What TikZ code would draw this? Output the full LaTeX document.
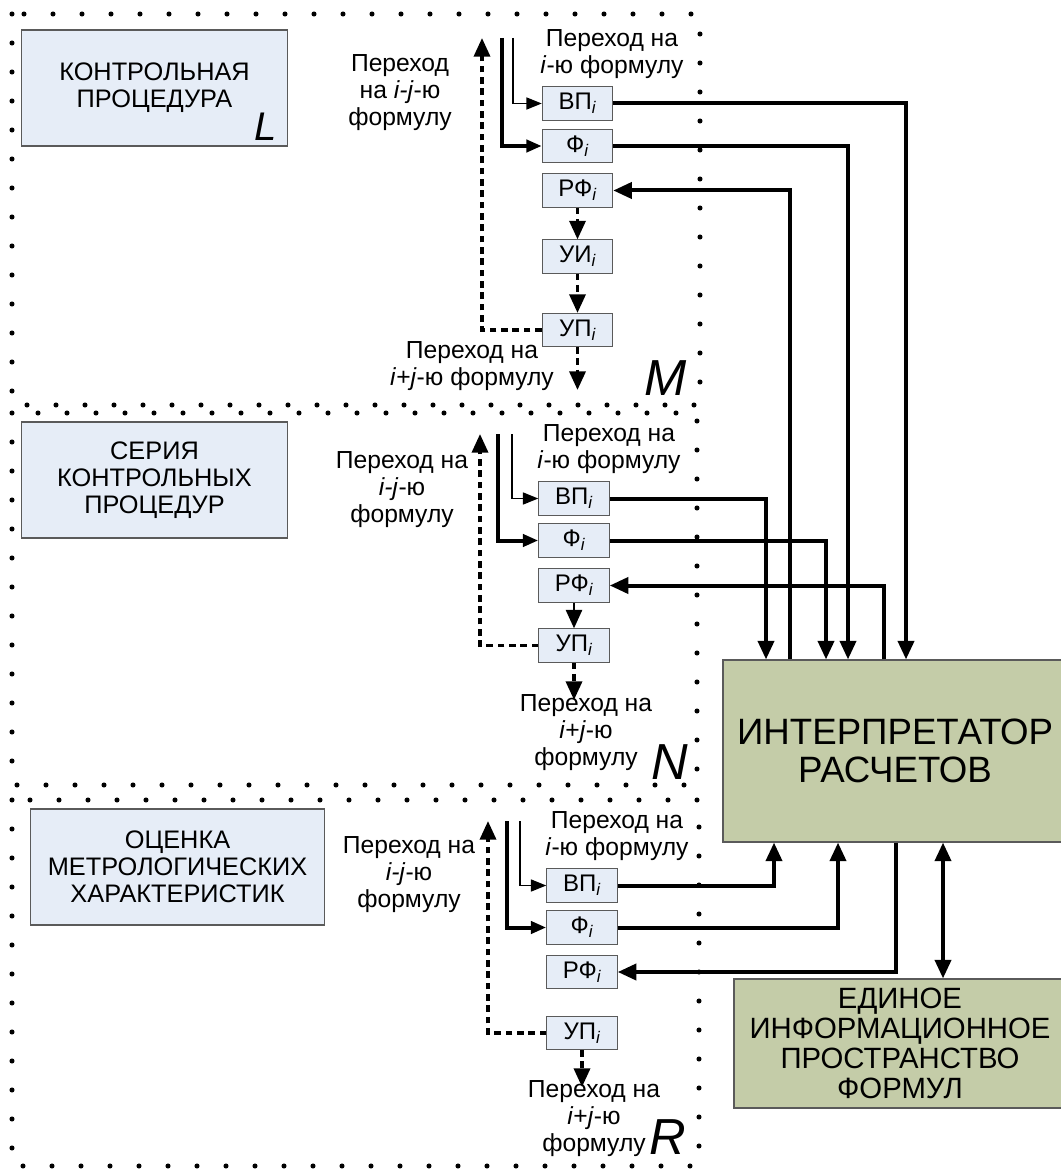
\documentclass[tikz,border=0pt]{standalone}
\usepackage{fontspec}
\setmainfont{Liberation Sans}
\usetikzlibrary{arrows.meta,calc}
\definecolor{boxblue}{RGB}{230,237,247}
\definecolor{interpfill}{RGB}{196,204,168}
\definecolor{boxline}{RGB}{90,90,90}
\tikzset{
  bigtip/.tip={Triangle[length=14pt,width=12pt]},
  smalltip/.tip={Triangle[length=11.5pt,width=9pt]},
  smallbox/.style={draw=boxline, line width=0.6pt, fill=boxblue, minimum width=53pt, minimum height=25pt, inner sep=0pt, font=\fontsize{18pt}{20pt}\selectfont},
  leftbox/.style={draw=boxline, line width=0.8pt, fill=boxblue, minimum height=87pt, inner sep=0pt, align=center, font=\fontsize{19pt}{20.25pt}\selectfont},
  greenbox/.style={draw=boxline, line width=0.8pt, fill=interpfill, inner sep=0pt, align=center},
  lbl/.style={align=center, inner sep=0pt, font=\fontsize{18.5pt}{20.25pt}\selectfont},
  bigletter/.style={inner sep=0pt, font=\fontsize{38pt}{38pt}\selectfont\itshape},
  frame/.style={line width=3.8pt, line cap=round, dash pattern=on 0pt off 21.75pt},
  conn/.style={line width=3pt, -bigtip},
  connboth/.style={line width=3pt, bigtip-bigtip},
  thickfeed/.style={line width=3pt, -smalltip},
  thinfeed/.style={line width=1.1pt, -smalltip},
  dashconn/.style={line width=2.6pt, dash pattern=on 5pt off 3.5pt, -bigtip},
  solidconn/.style={line width=2.2pt, -bigtip},
}
\newcommand{\sub}[1]{\textsubscript{\itshape #1}}
\begin{document}
\begin{tikzpicture}[x=0.75pt,y=-0.75pt]
\useasboundingbox (0,0) rectangle (1060,1169);
\fill[white] (0,0) rectangle (1060,1169);

% dotted frames
\draw[frame] (12,14) rectangle (700,405);
\draw[frame] (12,413) rectangle (697,785);
\draw[frame] (12,800) rectangle (699,1166);

% left boxes
\node[leftbox, minimum width=199pt] (kp) at (154.5,88) {КОНТРОЛЬНАЯ\\ПРОЦЕДУРА};
\node[bigletter, font=\fontsize{30pt}{30pt}\selectfont\itshape] (Lm) at (266,127) {L};
\node[leftbox, minimum width=199pt] (skp) at (154.5,480) {СЕРИЯ\\КОНТРОЛЬНЫХ\\ПРОЦЕДУР};
\node[leftbox, minimum width=220pt] (omx) at (177.5,867) {ОЦЕНКА\\МЕТРОЛОГИЧЕСКИХ\\ХАРАКТЕРИСТИК};

% green boxes
\node[greenbox, minimum width=258pt, minimum height=136.5pt, font=\fontsize{27.5pt}{28.5pt}\selectfont] (interp) at (895,751) {ИНТЕРПРЕТАТОР\\РАСЧЕТОВ};
\node[greenbox, minimum width=249pt, minimum height=96.75pt, font=\fontsize{22pt}{22.5pt}\selectfont] (edin) at (900,1043.5) {ЕДИНОЕ\\ИНФОРМАЦИОННОЕ\\ПРОСТРАНСТВО\\ФОРМУЛ};

% ---------- top section ----------
\node[smallbox] (vp1) at (577.5,103.5) {ВП\sub{i}};
\node[smallbox] (phi1) at (577.5,146) {Ф\sub{i}};
\node[smallbox] (rf1) at (577.5,190.5) {РФ\sub{i}};
\node[smallbox] (ui1) at (577.5,256.5) {УИ\sub{i}};
\node[smallbox] (up1) at (577.5,330) {УП\sub{i}};
\node[lbl] (a1) at (612,54.5) {Переход на\\\textit{i}-ю формулу};
\node[lbl] (b1) at (400,93) {Переход\\на \textit{i-j}-ю\\формулу};
\node[lbl] (c1) at (472,366.5) {Переход на\\\textit{i}+\textit{j}-ю формулу};
\node[bigletter] (Mm) at (666,378) {M};
\coordinate (ft1) at (502,38);
\coordinate (nt1) at (513,38);
\coordinate (dt1) at (482,38);
\coordinate (dn1) at (577.5,390);
\draw[thickfeed] (ft1) |- (phi1.west);
\draw[thinfeed] (nt1) |- (vp1.west);
\draw[dashconn] (up1.west) -| (dt1);
\draw[dashconn] (rf1.south) -- (ui1.north);
\draw[dashconn] (ui1.south) -- (up1.north);
\draw[dashconn] (up1.south) -- (dn1);

% ---------- middle section ----------
\node[smallbox] (vp2) at (574,498.5) {ВП\sub{i}};
\node[smallbox] (phi2) at (574,540.5) {Ф\sub{i}};
\node[smallbox] (rf2) at (574,585.5) {РФ\sub{i}};
\node[smallbox] (up2) at (574,645.5) {УП\sub{i}};
\node[lbl] (a2) at (609,449.5) {Переход на\\\textit{i}-ю формулу};
\node[lbl] (b2) at (402,489.5) {Переход на\\\textit{i-j}-ю\\формулу};
\node[lbl] (c2) at (586,732.5) {Переход на\\\textit{i}+\textit{j}-ю\\формулу};
\node[bigletter] (Nn) at (670,762) {N};
\coordinate (ft2) at (498,434);
\coordinate (nt2) at (512,434);
\coordinate (dt2) at (480,434);
\coordinate (dn2) at (574,700);
\draw[thickfeed] (ft2) |- (phi2.west);
\draw[thinfeed] (nt2) |- (vp2.west);
\draw[dashconn] (up2.west) -| (dt2);
\draw[solidconn] (rf2.south) -- (up2.north);
\draw[dashconn] (up2.south) -- (dn2);

% ---------- bottom section ----------
\node[smallbox] (vp3) at (582,885.5) {ВП\sub{i}};
\node[smallbox] (phi3) at (582,927.5) {Ф\sub{i}};
\node[smallbox] (rf3) at (582,972) {РФ\sub{i}};
\node[smallbox] (up3) at (582,1033) {УП\sub{i}};
\node[lbl] (a3) at (617,836) {Переход на\\\textit{i}-ю формулу};
\node[lbl] (b3) at (409,874.5) {Переход на\\\textit{i-j}-ю\\формулу};
\node[lbl] (c3) at (594,1118.5) {Переход на\\\textit{i}+\textit{j}-ю\\формулу};
\node[bigletter] (Rr) at (668,1137) {R};
\coordinate (ft3) at (507,821);
\coordinate (nt3) at (520,821);
\coordinate (dt3) at (488,821);
\coordinate (dn3) at (582,1087);
\draw[thickfeed] (ft3) |- (phi3.west);
\draw[thinfeed] (nt3) |- (vp3.west);
\draw[dashconn] (up3.west) -| (dt3);
\draw[dashconn] (up3.south) -- (dn3);

% ---------- connections with the interpreter ----------
\coordinate (x766) at (766,0);
\coordinate (x790) at (790,0);
\coordinate (x826) at (826,0);
\coordinate (x848) at (848,0);
\coordinate (x884) at (884,0);
\coordinate (x906) at (906,0);
\coordinate (x774) at (774,0);
\coordinate (x838) at (838,0);
\coordinate (x896) at (896,0);
\coordinate (x943) at (943,0);
\draw[conn] (vp1.east) -| (interp.north -| x906);
\draw[conn] (phi1.east) -| (interp.north -| x848);
\draw[conn] (interp.north -| x790) |- (rf1.east);
\draw[conn] (vp2.east) -| (interp.north -| x766);
\draw[conn] (phi2.east) -| (interp.north -| x826);
\draw[conn] (interp.north -| x884) |- (rf2.east);
\draw[conn] (vp3.east) -| (interp.south -| x774);
\draw[conn] (phi3.east) -| (interp.south -| x838);
\draw[conn] (interp.south -| x896) |- (rf3.east);
\draw[connboth] (interp.south -| x943) -- (edin.north -| x943);
\end{tikzpicture}
\end{document}
